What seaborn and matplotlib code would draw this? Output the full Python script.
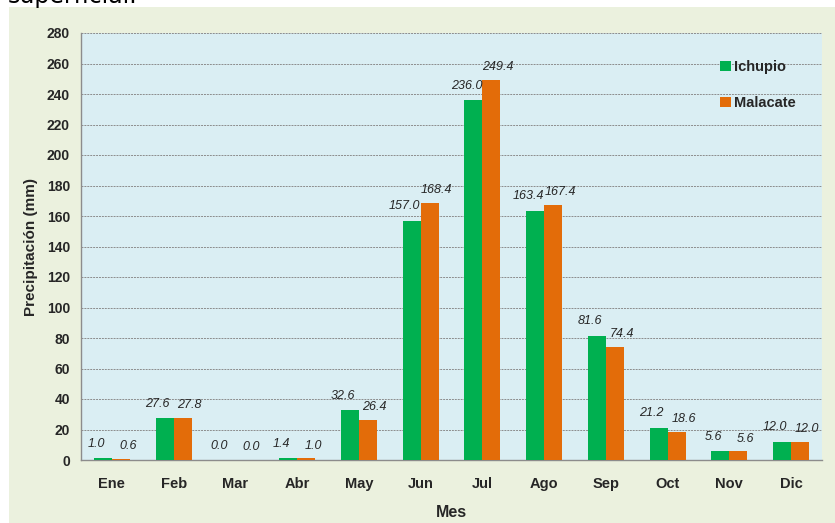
import numpy as np
import pandas as pd
import matplotlib
matplotlib.use("Agg")
import matplotlib.pyplot as plt
import seaborn as sns
from matplotlib.patches import Rectangle

# ── Data ──────────────────────────────────────────────────────────────────────
meses = ["Ene", "Feb", "Mar", "Abr", "May", "Jun", "Jul", "Ago", "Sep", "Oct", "Nov", "Dic"]
ichupio = [1.0, 27.6, 0.0, 1.4, 32.6, 157.0, 236.0, 163.4, 81.6, 21.2, 5.6, 12.0]
malacate = [0.6, 27.8, 0.0, 1.0, 26.4, 168.4, 249.4, 167.4, 74.4, 18.6, 5.6, 12.0]
estaciones = ["Ichupio", "Malacate"]
y_ticks = list(range(0, 281, 20))

df = pd.DataFrame({
    "Mes": meses * 2,
    "Estacion": [estaciones[0]] * len(meses) + [estaciones[1]] * len(meses),
    "Precipitacion": ichupio + malacate,
})

# ── Style ─────────────────────────────────────────────────────────────────────
sns.set_theme(style="white")
plt.rcParams["font.family"] = ["Liberation Sans Narrow", "Liberation Sans", "DejaVu Sans"]

colores = {"Ichupio": "#00B050", "Malacate": "#E36C09"}
W, H = 835, 523

fig = plt.figure(figsize=(W / 100, H / 100), dpi=100)
fig.patch.set_facecolor("white")
# beige chart area
fig.patches.append(Rectangle((9 / W, 0), 1 - 9 / W, 1 - 7 / H, transform=fig.transFigure,
                             facecolor="#EBF1DE", edgecolor="none", zorder=-1))
fig.text(8 / W, 1 - 3 / H, "superficial.", fontsize=17, family="DejaVu Sans",
         va="baseline", ha="left", color="black")

ax = fig.add_axes([81 / W, 1 - 460 / H, (822 - 81) / W, (460 - 33) / H])
ax.set_facecolor("#DAEEF3")

sns.barplot(data=df, x="Mes", y="Precipitacion", hue="Estacion", order=meses,
            hue_order=estaciones, palette=colores, width=0.58, saturation=1,
            linewidth=0, ax=ax, zorder=3)

# data labels
offsets = {0: (-5, 6), 1: (5, 5)}
for i, cont in enumerate(ax.containers):
    for bar, v in zip(cont, [ichupio, malacate][i]):
        ax.annotate(f"{v:.1f}", (bar.get_x() + bar.get_width() / 2, bar.get_height()),
                    xytext=offsets[i], textcoords="offset points", ha="center", va="bottom",
                    fontsize=9, style="italic", color="#262626")

ax.set_ylim(0, 280)
ax.set_yticks(y_ticks)
ax.set_xlim(-0.5, len(meses) - 0.5)
ax.yaxis.grid(True, color="#8c8c8c", linestyle=(0, (2, 1)), linewidth=0.7, zorder=0)
ax.set_axisbelow(True)

for s in ["top", "right"]:
    ax.spines[s].set_visible(False)
for s in ["left", "bottom"]:
    ax.spines[s].set_color("#8c8c8c")
    ax.spines[s].set_linewidth(1.0)

ax.tick_params(axis="y", which="major", length=5, width=0.8, color="#8c8c8c",
               direction="out", labelsize=10, pad=3)
ax.set_xticks(np.arange(-0.5, len(meses)), minor=True)
ax.tick_params(axis="x", which="minor", length=5, width=0.8, color="#8c8c8c", direction="out")
ax.tick_params(axis="x", which="major", length=0, labelsize=10.5, pad=12)
for lbl in ax.get_xticklabels() + ax.get_yticklabels():
    lbl.set_fontweight("bold")

ax.set_xlabel("Mes", fontsize=11.5, fontweight="bold", labelpad=10)
ax.set_ylabel("Precipitación (mm)", fontsize=11, fontweight="bold", labelpad=6)

leg = ax.legend(loc="upper left", bbox_to_anchor=(0.855, 0.95), frameon=False,
                fontsize=10.5, labelspacing=1.5, handlelength=0.7, handleheight=0.7,
                handletextpad=0.2, borderaxespad=0)
for t in leg.get_texts():
    t.set_fontweight("bold")

fig.savefig("out.png", dpi=100)
